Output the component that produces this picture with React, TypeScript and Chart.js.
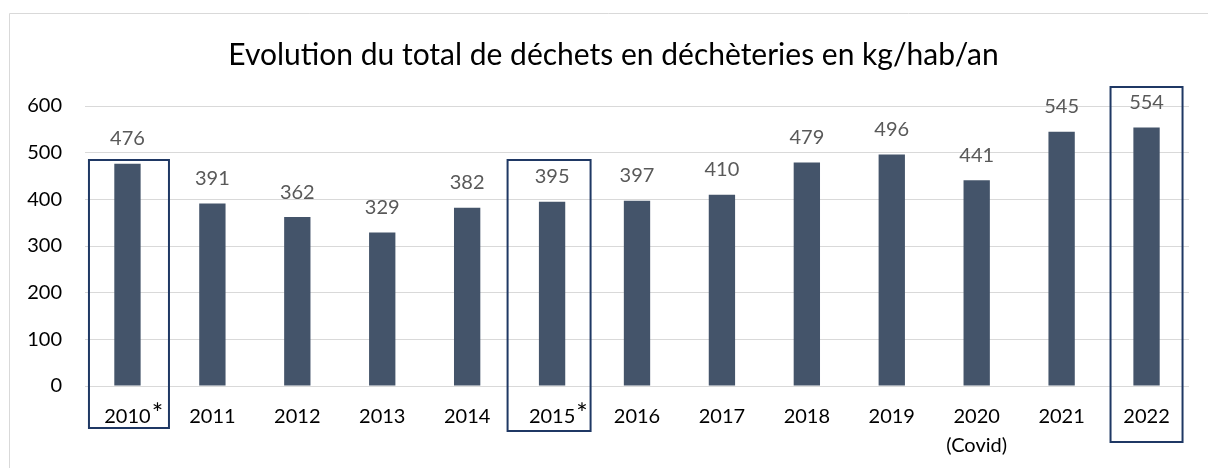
import React, { useEffect, useRef } from "react";
import { Chart, registerables } from "chart.js";

Chart.register(...registerables);

// ---------- data ----------
const categories: string[] = [
  "2010*", "2011", "2012", "2013", "2014", "2015*", "2016", "2017",
  "2018", "2019", "2020\n(Covid)", "2021", "2022",
];
const values: number[] = [476, 391, 362, 329, 382, 395, 397, 410, 479, 496, 441, 545, 554];
const yTickValues: number[] = [0, 100, 200, 300, 400, 500, 600];
const highlightedCategories: string[] = ["2010*", "2015*", "2022"];
const chartTitle = "Evolution du total de déchets en déchèteries en kg/hab/an";

// ---------- styles ----------
const FONT = "Lato, 'Open Sans', sans-serif";
const BAR_COLOR = "#44546A";
const LABEL_COLOR = "#595959";
const GRID_COLOR = "#D9D9D9";
const BOX_COLOR = "#1F3864";
// highlight box geometry (pixels relative to the category center / canvas)
const boxStyles: Record<string, { dx: number; half: number; top: number; bottom: number }> = {
  "2010*": { dx: 1.5, half: 40, top: 160, bottom: 428 },
  "2015*": { dx: -3, half: 41.5, top: 160, bottom: 431 },
  "2022": { dx: 0, half: 36, top: 87, bottom: 442 },
};

const splitLabel = (l: string): string | string[] => {
  const base = l.replace("*", "");
  return base.includes("\n") ? base.split("\n") : base;
};

export default function App() {
  const ref = useRef<HTMLCanvasElement | null>(null);

  useEffect(() => {
    document.body.style.margin = "0";
    const canvas = ref.current;
    if (!canvas) return;

    const framePlugin = {
      id: "frame",
      beforeDraw(chart: any) {
        const ctx = chart.ctx;
        ctx.save();
        ctx.strokeStyle = GRID_COLOR;
        ctx.lineWidth = 1;
        ctx.beginPath();
        ctx.moveTo(9.5, chart.height);
        ctx.lineTo(9.5, 13.5);
        ctx.lineTo(chart.width, 13.5);
        ctx.stroke();
        // title
        ctx.fillStyle = "#000000";
        ctx.font = `30px ${FONT}`;
        ctx.textAlign = "center";
        ctx.textBaseline = "middle";
        ctx.fillText(chartTitle, 613.5, 55);
        ctx.restore();
      },
    };

    const decorPlugin = {
      id: "decor",
      afterDatasetsDraw(chart: any) {
        const ctx = chart.ctx;
        const meta = chart.getDatasetMeta(0);
        const xScale = chart.scales.x;
        ctx.save();
        // value labels
        ctx.fillStyle = LABEL_COLOR;
        ctx.font = `20px ${FONT}`;
        ctx.textAlign = "center";
        ctx.textBaseline = "middle";
        meta.data.forEach((bar: any, i: number) => {
          ctx.fillText(String(values[i]), bar.x, bar.y - 25);
        });
        // highlight boxes
        ctx.strokeStyle = BOX_COLOR;
        ctx.lineWidth = 2;
        highlightedCategories.forEach((c) => {
          const i = categories.indexOf(c);
          const s = boxStyles[c];
          const cx = xScale.getPixelForTick(i) + s.dx;
          ctx.strokeRect(cx - s.half, s.top, s.half * 2, s.bottom - s.top);
        });
        // superscript asterisks
        ctx.fillStyle = "#000000";
        categories.forEach((c, i) => {
          if (!c.includes("*")) return;
          const base = c.replace("*", "");
          ctx.font = `20px ${FONT}`;
          const w = ctx.measureText(base).width;
          const cx = xScale.getPixelForTick(i);
          ctx.font = `27px ${FONT}`;
          ctx.textAlign = "left";
          ctx.fillText("*", cx + w / 2 + 1, 414);
        });
        ctx.restore();
      },
    };

    const chart = new Chart(canvas, {
      type: "bar",
      data: {
        labels: categories,
        datasets: [
          {
            data: values,
            backgroundColor: BAR_COLOR,
            borderWidth: 0,
            categoryPercentage: 1,
            barPercentage: 0.31,
          },
        ],
      },
      options: {
        animation: false,
        responsive: false,
        layout: { padding: { top: 106, right: 19, left: 0, bottom: 0 } },
        plugins: {
          legend: { display: false },
          title: { display: false },
          tooltip: { enabled: false },
        },
        scales: {
          x: {
            grid: { display: false, drawTicks: false },
            border: { display: false },
            ticks: {
              color: "#000000",
              font: { family: FONT, size: 20, lineHeight: 1.45 },
              padding: 16.5,
              maxRotation: 0,
              autoSkip: false,
              callback: (_v: any, i: number) => splitLabel(categories[i]),
            },
            afterFit: (s: any) => {
              s.height = 82;
            },
          },
          y: {
            min: 0,
            max: 600,
            afterBuildTicks: (s: any) => {
              s.ticks = yTickValues.map((v) => ({ value: v }));
            },
            grid: { color: GRID_COLOR, lineWidth: 1, drawTicks: false },
            border: { display: false },
            ticks: {
              color: "#000000",
              font: { family: FONT, size: 20 },
              padding: 23,
            },
            afterFit: (s: any) => {
              s.width = 85;
            },
          },
        },
      },
      plugins: [framePlugin, decorPlugin],
    });

    return () => chart.destroy();
  }, []);

  return (
    <div style={{ width: 1208, height: 468 }}>
      <canvas ref={ref} width={1208} height={468} />
    </div>
  );
}
